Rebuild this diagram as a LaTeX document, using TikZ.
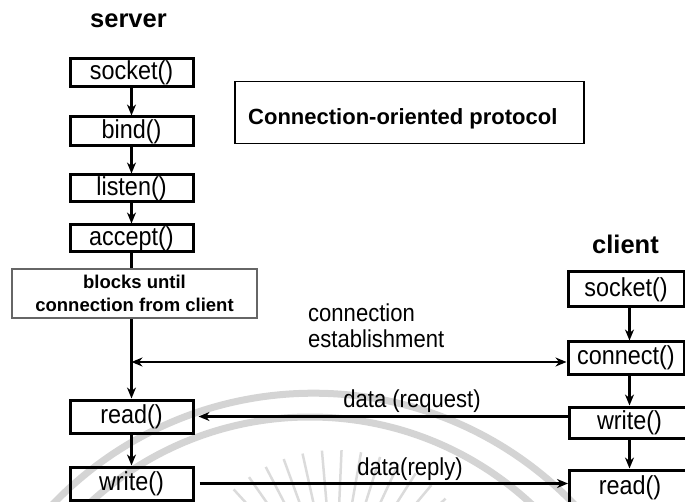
\documentclass[tikz,border=0pt]{standalone}
\usepackage{fontspec}
\setmainfont{Liberation Sans}
\newfontfamily\narrowsans[FakeStretch=0.9]{Liberation Sans}
\usetikzlibrary{arrows.meta,calc}
\begin{document}
\begin{tikzpicture}[x=1pt,y=-1pt,
  fn/.style={draw, line width=3pt, inner sep=0pt, font=\narrowsans\fontsize{26}{28}\selectfont},
  head/.style={font=\bfseries\fontsize{25.5}{28}\selectfont, inner sep=0pt},
  lbl/.style={font=\narrowsans\fontsize{24.5}{26}\selectfont, inner sep=0pt},
  tip/.tip={Stealth[length=11pt,width=9pt]},
  link/.style={line width=2.2pt, -tip},
  wm/.style={draw=black!17, line width=7pt}
]
\useasboundingbox (0,0) rectangle (685,502);
\begin{scope}
  \clip (0,0) rectangle (685,502);
  % faint emblem in the background
  \draw[wm] (313.5,754.7) circle[radius=361.5pt];
  \draw[wm] (310,742) circle[radius=325pt];
  \foreach \a in {220,227.5,...,320}
    \draw[black!14, line width=2.5pt, shift={(335,600)}] (\a:70) -- (\a:150);
\end{scope}

% server side
\node[head] (server) at (128.5,20.5) {server};
\node[fn, minimum width=123pt, minimum height=28pt] (ssock) at (131.5,73) {socket()};
\node[fn, minimum width=123pt, minimum height=29pt] (sbind) at (131.5,131.5) {bind()};
\node[fn, minimum width=123pt, minimum height=27pt] (slist) at (131.5,188.5) {listen()};
\node[fn, minimum width=123pt, minimum height=27pt] (sacc) at (131.5,238.5) {accept()};
\node[draw=black!60, line width=2.6pt, minimum width=245pt, minimum height=49pt,
      inner sep=0pt, align=center, font=\bfseries\fontsize{18.5}{23}\selectfont]
      (block) at (134.5,293.5) {blocks until\\connection from client};
\node[fn, minimum width=123pt, minimum height=33pt] (sread) at (131.5,416.5) {read()};
\node[fn, minimum width=123pt, minimum height=33pt] (swrite) at (131.5,483.5) {write()};

% title box
\node[draw, line width=1.8pt, minimum width=349pt, minimum height=62pt] (proto) at (409.5,112.5) {};
\node[anchor=base west, inner sep=0pt, font=\bfseries\fontsize{22}{24}\selectfont]
      (protot) at (248,125) {Connection-oriented protocol};

% client side
\node[head] (client) at (625.5,244) {client};
\node[fn, minimum width=116pt, minimum height=35pt] (csock) at (626,289.5) {socket()};
\node[fn, minimum width=116pt, minimum height=32pt] (ccon) at (626,358) {connect()};
\node[fn, minimum width=121pt, minimum height=31pt] (cwrite) at (629.5,422.5) {write()};
\node[fn, minimum width=121pt, minimum height=36pt] (cread) at (630,488) {read()};

% message labels
\node[lbl, anchor=base west] (lconn) at (308,322) {connection};
\node[lbl, anchor=base west] (lest) at (308,348) {establishment};
\node[lbl, anchor=base] (lreq) at (412,407.5) {data (request)};
\node[lbl, anchor=base] (lrep) at (410,475) {data(reply)};

% server flow
\draw[link] (ssock) -- (sbind);
\draw[link] (sbind) -- (slist);
\draw[link] (slist) -- (sacc);
\draw[line width=2.2pt] (sacc.south -| ssock.south) -- (block.north -| ssock.south);
\draw[link] (sread.north |- block.south) -- (sread.north);
\draw[link] (sread) -- (swrite);

% client flow
\draw[link] (csock.south -| cwrite.north) -- (ccon.north -| cwrite.north);
\draw[link] (ccon.south -| cwrite.north) -- (cwrite.north);
\draw[link] (cwrite.south) -- (cwrite.south |- cread.north);

% messages between the two sides
\coordinate (junc) at ($(sread.north |- ccon.west)+(0,4)$);
\draw[line width=2.2pt, tip-tip] (junc) -- (ccon.west |- junc);
\draw[link] (sread.east -| cwrite.west) -- ([xshift=4pt]sread.east);
\draw[link] ([xshift=5pt]swrite.east) -- (swrite.east -| cread.west);
\end{tikzpicture}
\end{document}
